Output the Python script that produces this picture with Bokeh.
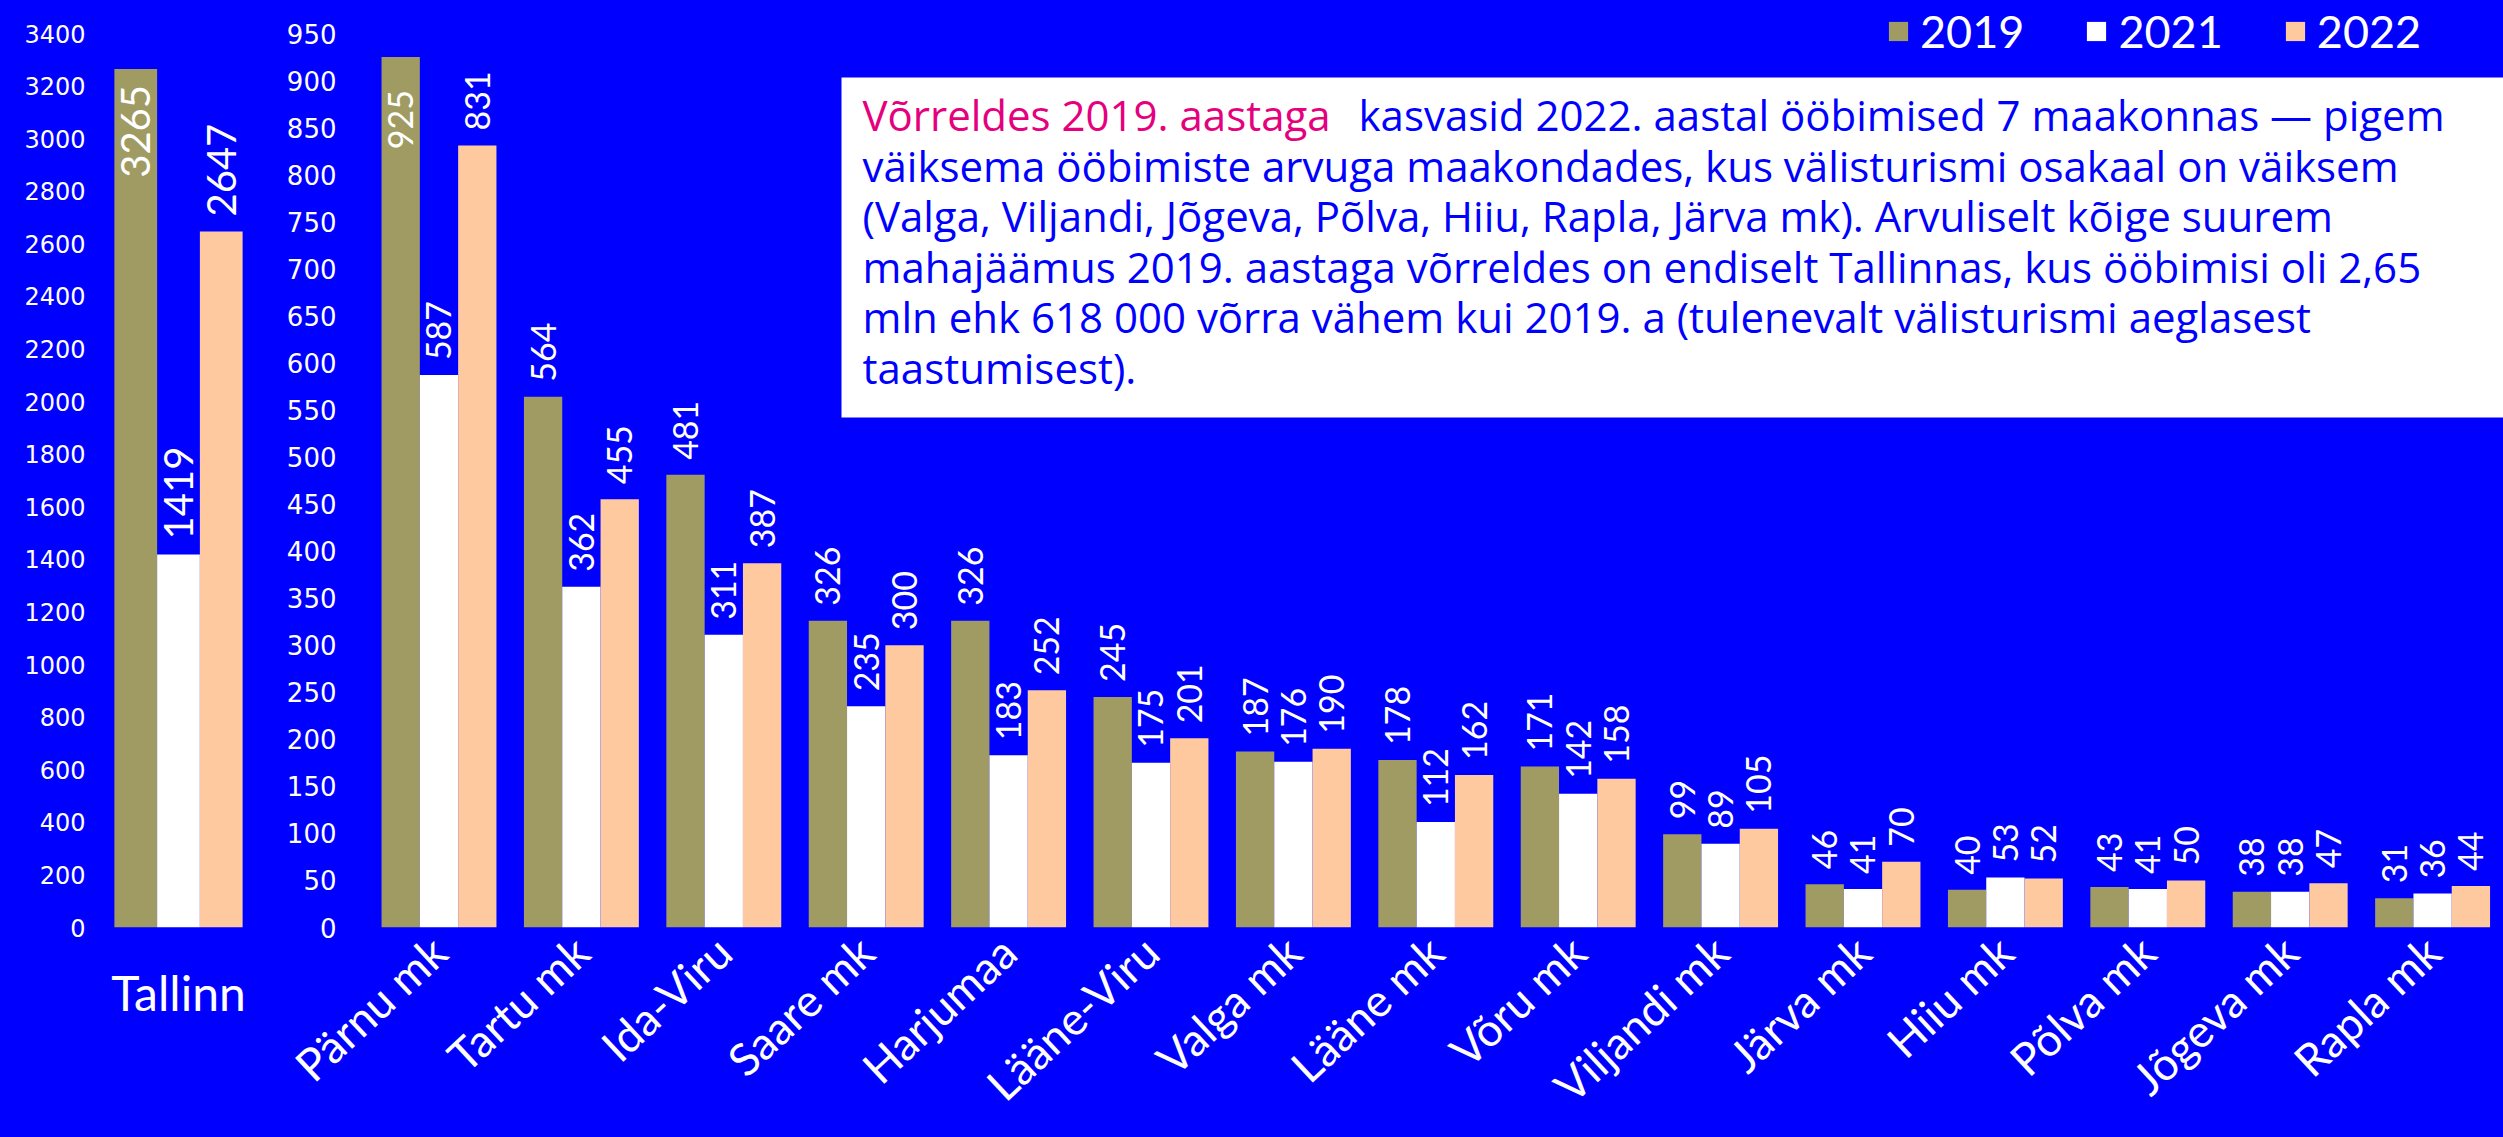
import math
from bokeh.plotting import figure
from bokeh.layouts import row
from bokeh.models import (ColumnDataSource, FixedTicker, Range1d, Legend, LegendItem,
                          Label, BoxAnnotation)
from bokeh.transform import dodge
from bokeh.embed import file_html
from bokeh.resources import INLINE
from bokeh.core.properties import value

# ---------------- data ----------------
years = ["2019", "2021", "2022"]
tallinn_name = ["Tallinn"]
tallinn_2019 = [3265]
tallinn_2021 = [1419]
tallinn_2022 = [2647]

regions = ["Pärnu mk", "Tartu mk", "Ida-Viru", "Saare mk", "Harjumaa", "Lääne-Viru",
           "Valga mk", "Lääne mk", "Võru mk", "Viljandi mk", "Järva mk", "Hiiu mk",
           "Põlva mk", "Jõgeva mk", "Rapla mk"]
v2019 = [925, 564, 481, 326, 326, 245, 187, 178, 171, 99, 46, 40, 43, 38, 31]
v2021 = [587, 362, 311, 235, 183, 175, 176, 112, 142, 89, 41, 53, 41, 38, 36]
v2022 = [831, 455, 387, 300, 252, 201, 190, 162, 158, 105, 70, 52, 50, 47, 44]

left_ticks = list(range(0, 3401, 200))
right_ticks = list(range(0, 951, 50))

note_highlight = "Võrreldes 2019. aastaga"
note_lines = [
    "kasvasid 2022. aastal ööbimised 7 maakonnas — pigem",
    "väiksema ööbimiste arvuga maakondades, kus välisturismi osakaal on väiksem",
    "(Valga, Viljandi, Jõgeva, Põlva, Hiiu, Rapla, Järva mk). Arvuliselt kõige suurem",
    "mahajäämus 2019. aastaga võrreldes on endiselt Tallinnas, kus ööbimisi oli 2,65",
    "mln ehk 618 000 võrra vähem kui 2019. a (tulenevalt välisturismi aeglasest",
    "taastumisest).",
]

# ---------------- style ----------------
BG = "#0000FF"
C2019 = "#A09B62"
C2021 = "#FFFFFF"
C2022 = "#FFC9A0"
PINK = "#E5007E"
colors = [C2019, C2021, C2022]
FONT = "Lato"
NOTEFONT = "Open Sans"
TICKFONT = "DejaVu Sans"

TOTAL_W = 2503
TOTAL_H = 1137
TOP_TICK_PX = 33      # pixel row of the highest tick
FRAME_BOTTOM = 927    # pixel row of zero
LEFT_W = 256
# frame spans the full height above the axis so the legend is not clipped
EXT = FRAME_BOTTOM / (FRAME_BOTTOM - TOP_TICK_PX)


def style(p):
    p.background_fill_color = BG
    p.border_fill_color = BG
    p.outline_line_color = None
    p.xgrid.grid_line_color = None
    p.ygrid.grid_line_color = None
    for ax in (p.xaxis[0], p.yaxis[0]):
        ax.axis_line_color = None
        ax.major_tick_line_color = None
        ax.minor_tick_line_color = None
        ax.major_label_text_color = "white"


# ---------------- left figure (Tallinn) ----------------
pl = figure(width=LEFT_W, height=TOTAL_H, output_backend="svg", toolbar_location=None,
            x_range=Range1d(-0.5, 0.5), y_range=Range1d(0, left_ticks[-1] * EXT),
            min_border_left=100, min_border_right=0, min_border_top=0,
            min_border_bottom=TOTAL_H - FRAME_BOTTOM)
style(pl)
bw_l = 0.274
src_l = ColumnDataSource(dict(x=[0], y2019=tallinn_2019, y2021=tallinn_2021, y2022=tallinn_2022))
offs_l = [-bw_l, 0, bw_l]
for yr, col, off in zip(years, colors, offs_l):
    pl.vbar(x=dodge("x", off, range=pl.x_range), top="y" + yr, width=bw_l, source=src_l,
            fill_color=col, line_color=None)
    vals = src_l.data["y" + yr]
    inside = [v for v in vals if v / 3400 > 0.9]
    outside = [v for v in vals if v / 3400 <= 0.9]
    for group, align, yoff in ((inside, "right", 16), (outside, "left", -15)):
        if not group:
            continue
        s = ColumnDataSource(dict(x=[off] * len(group), y=group, t=[str(v) for v in group]))
        pl.text(x="x", y="y", text="t", source=s, angle=math.pi / 2, text_align=align,
                text_baseline="middle", y_offset=yoff, text_color="white",
                text_font=value(FONT), text_font_size="40px")

pl.yaxis.ticker = FixedTicker(ticks=left_ticks)
pl.yaxis.major_label_text_font = TICKFONT
pl.yaxis.major_label_text_font_size = "24px"
pl.yaxis.major_label_standoff = 9
pl.xaxis.ticker = FixedTicker(ticks=[0])
pl.xaxis.major_label_overrides = {0: tallinn_name[0]}
pl.xaxis.major_label_text_font = FONT
pl.xaxis.major_label_text_font_size = "48px"
pl.xaxis.major_label_standoff = 30

# ---------------- right figure (regions) ----------------
RIGHT_W = TOTAL_W - LEFT_W
pr = figure(width=RIGHT_W, height=TOTAL_H, output_backend="svg", toolbar_location=None,
            x_range=Range1d(-0.6074, (TOTAL_W - 438.5) / 142.4),
            y_range=Range1d(0, right_ticks[-1] * EXT),
            min_border_left=96, min_border_right=0, min_border_top=0,
            min_border_bottom=TOTAL_H - FRAME_BOTTOM)
style(pr)
bw = 0.269
xs = list(range(len(regions)))
src_r = ColumnDataSource(dict(x=xs, y2019=v2019, y2021=v2021, y2022=v2022))
renderers = []
for yr, col, off in zip(years, colors, [-bw, 0, bw]):
    r = pr.vbar(x=dodge("x", off, range=pr.x_range), top="y" + yr, width=bw, source=src_r,
                fill_color=col, line_color=None)
    renderers.append(r)
    vals = src_r.data["y" + yr]
    inside_x = [x + off for x, v in zip(xs, vals) if v / 950 > 0.9]
    inside_v = [v for v in vals if v / 950 > 0.9]
    out_x = [x + off for x, v in zip(xs, vals) if v / 950 <= 0.9]
    out_v = [v for v in vals if v / 950 <= 0.9]
    for gx, gv, align, yoff in ((inside_x, inside_v, "right", 33), (out_x, out_v, "left", -15)):
        if not gv:
            continue
        s = ColumnDataSource(dict(x=gx, y=gv, t=[str(v) for v in gv]))
        pr.text(x="x", y="y", text="t", source=s, angle=math.pi / 2, text_align=align,
                text_baseline="middle", y_offset=yoff, text_color="white",
                text_font=value(FONT), text_font_size="34px")

pr.yaxis.ticker = FixedTicker(ticks=right_ticks)
pr.yaxis.major_label_text_font = TICKFONT
pr.yaxis.major_label_text_font_size = "26px"
pr.yaxis.major_label_standoff = 10
pr.xaxis.ticker = FixedTicker(ticks=xs)
pr.xaxis.major_label_overrides = {i: n for i, n in enumerate(regions)}
pr.xaxis.major_label_orientation = math.radians(43)
pr.xaxis.major_label_text_font = FONT
pr.xaxis.major_label_text_font_size = "45px"
pr.xaxis.major_label_standoff = 11

# legend
legend = Legend(items=[LegendItem(label=yr, renderers=[r]) for yr, r in zip(years, renderers)],
                orientation="horizontal", location=(1534, 869),
                label_text_font=FONT, label_text_font_size="45px", label_text_color="white",
                glyph_width=24, glyph_height=24, label_standoff=10, spacing=60,
                padding=0, margin=0, border_line_color=None, background_fill_alpha=0)
pr.add_layout(legend)


# text box (positions converted from reference pixel geometry)
def rx(X):
    return (X - 438.5) / 142.4


def ry(Y):
    return (FRAME_BOTTOM - Y) * 950 / (FRAME_BOTTOM - TOP_TICK_PX)


pr.add_layout(BoxAnnotation(left=rx(841), right=rx(2520), top=ry(77), bottom=ry(417),
                            fill_color="white", fill_alpha=1, line_color=None))
baselines = [114, 164.5, 215, 265.5, 316, 366.5]
NOTE_SIZE = "42px"
pr.add_layout(Label(x=rx(862), y=ry(baselines[0]), text=note_highlight, text_color=PINK,
                    text_font=NOTEFONT, text_font_size=NOTE_SIZE, text_baseline="alphabetic"))
pr.add_layout(Label(x=rx(1358), y=ry(baselines[0]), text=note_lines[0], text_color=BG,
                    text_font=NOTEFONT, text_font_size=NOTE_SIZE, text_baseline="alphabetic"))
for line, b in zip(note_lines[1:], baselines[1:]):
    pr.add_layout(Label(x=rx(862), y=ry(b), text=line, text_color=BG,
                        text_font=NOTEFONT, text_font_size=NOTE_SIZE, text_baseline="alphabetic"))

layout = row(pl, pr, spacing=0)
layout.styles = {"background-color": BG}
open("out.html", "w").write(file_html(layout, INLINE))
